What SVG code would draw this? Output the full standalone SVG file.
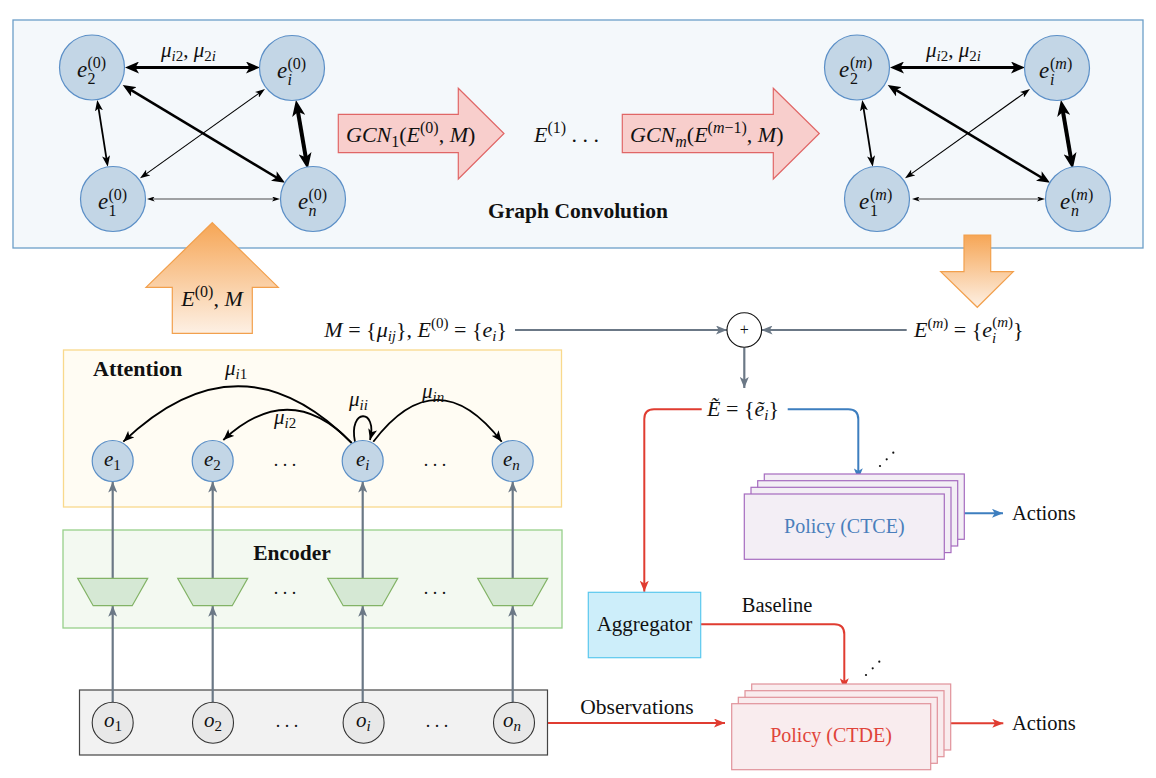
<svg xmlns="http://www.w3.org/2000/svg" width="1156" height="778" viewBox="0 0 1156 778">
<style>
.t{fill:#111}
.i{font-style:italic}
.b{font-weight:bold}
.u{font-style:normal}
.node{fill:#c3d6e6;stroke:#5b8fc7;stroke-width:1.2}
.obs{fill:#e8e8e8;stroke:#333;stroke-width:1.1}
.gline{stroke:#6b7886;stroke-width:2.2;fill:none}
.kline{stroke:#000;fill:none}
.trap{fill:#d5e8d4;stroke:#82b366;stroke-width:1.2}
.ctce{fill:#f3eef5;stroke:#a66bbf;stroke-width:1.2}
.ctde{fill:#f9ecee;stroke:#e0929a;stroke-width:1.2}
</style>
<defs>
<linearGradient id="og" x1="0" y1="0" x2="0" y2="1">
<stop offset="0" stop-color="#f6a656"/>
<stop offset="1" stop-color="#fdf0e4"/>
</linearGradient>
<marker id="k16" viewBox="0 0 16 13" refX="8" refY="6.5" markerWidth="16" markerHeight="13" markerUnits="userSpaceOnUse" orient="auto-start-reverse"><path d="M0,0 L16,6.5 L0,13 L4,6.5 z" fill="#000"/></marker>
<marker id="k14" viewBox="0 0 14 12" refX="7" refY="6" markerWidth="14" markerHeight="12" markerUnits="userSpaceOnUse" orient="auto-start-reverse"><path d="M0,0 L14,6 L0,12 L3.5,6 z" fill="#000"/></marker>
<marker id="k13" viewBox="0 0 13 11" refX="6.5" refY="5.5" markerWidth="13" markerHeight="11" markerUnits="userSpaceOnUse" orient="auto-start-reverse"><path d="M0,0 L13,5.5 L0,11 L3.2,5.5 z" fill="#000"/></marker>
<marker id="k11" viewBox="0 0 11 8" refX="5.5" refY="4" markerWidth="11" markerHeight="8" markerUnits="userSpaceOnUse" orient="auto-start-reverse"><path d="M0,0 L11,4 L0,8 L2.7,4 z" fill="#000"/></marker>
<marker id="k10" viewBox="0 0 10 7" refX="5" refY="3.5" markerWidth="10" markerHeight="7" markerUnits="userSpaceOnUse" orient="auto-start-reverse"><path d="M0,0 L10,3.5 L0,7 L2.5,3.5 z" fill="#000"/></marker>
<marker id="k8" viewBox="0 0 8 5" refX="4" refY="2.5" markerWidth="8" markerHeight="5" markerUnits="userSpaceOnUse" orient="auto-start-reverse"><path d="M0,0 L8,2.5 L0,5 L2,2.5 z" fill="#000"/></marker>
<marker id="ka" viewBox="0 0 11 9" refX="11" refY="4.5" markerWidth="11" markerHeight="9" markerUnits="userSpaceOnUse" orient="auto"><path d="M0,0 L11,4.5 L0,9 L2.7,4.5 z" fill="#000"/></marker>
<marker id="ga" viewBox="0 0 11 9" refX="11" refY="4.5" markerWidth="11" markerHeight="9" markerUnits="userSpaceOnUse" orient="auto"><path d="M0,0 L11,4.5 L0,9 L2.7,4.5 z" fill="#6b7886"/></marker>
<marker id="ra" viewBox="0 0 11 9" refX="11" refY="4.5" markerWidth="11" markerHeight="9" markerUnits="userSpaceOnUse" orient="auto"><path d="M0,0 L11,4.5 L0,9 L2.7,4.5 z" fill="#e03c31"/></marker>
<marker id="ba" viewBox="0 0 11 9" refX="11" refY="4.5" markerWidth="11" markerHeight="9" markerUnits="userSpaceOnUse" orient="auto"><path d="M0,0 L11,4.5 L0,9 L2.7,4.5 z" fill="#3d7ebf"/></marker>
</defs>
<rect width="1156" height="778" fill="#fff"/>

<g id="graph-convolution-box">
<rect x="13" y="20" width="1130" height="228" fill="#f4f8fb" stroke="#6c9ec8" stroke-width="1.3"/>
<text class="t b" font-family="Liberation Serif, serif" x="578" y="218" font-size="21.5" text-anchor="middle">Graph Convolution</text>
</g>
<g id="attention-box">
<rect x="63.5" y="350" width="498" height="157" fill="#fffcf3" stroke="#f9d98c" stroke-width="1.3"/>
<text class="t b" font-family="Liberation Serif, serif" x="93" y="376" font-size="22">Attention</text>
</g>
<g id="encoder-box">
<rect x="63" y="530" width="499" height="98" fill="#f3f9f1" stroke="#97d08a" stroke-width="1.3"/>
<text class="t b" font-family="Liberation Serif, serif" x="292" y="560" font-size="21.5" text-anchor="middle">Encoder</text>
</g>
<g id="observations-box">
<rect x="79.5" y="690" width="468" height="65" fill="#f2f2f2" stroke="#444" stroke-width="1.2"/>
</g>

<g id="gcn1-arrow">
<path d="M338.3,114.3 H458.3 V88.3 L504,133.5 L458.3,179 V152.7 H338.3 Z" fill="#f8cecc" stroke="#e06666" stroke-width="1.2"/>
<text class="t i" font-family="Liberation Serif, serif" x="346" y="142" font-size="22">GCN<tspan class="u" font-size="16" dy="5">1</tspan><tspan class="u" dy="-5">(</tspan>E<tspan class="u" font-size="16" dy="-9">(0)</tspan><tspan class="u" dy="9">, </tspan>M<tspan class="u">)</tspan></text>
</g>
<g id="e1-label">
<text class="t i" font-family="Liberation Serif, serif" x="534" y="142" font-size="22">E<tspan class="u" font-size="16" dy="-9">(1)</tspan><tspan class="u" dy="9"> . . .</tspan></text>
</g>
<g id="gcnm-arrow">
<path d="M622.3,114.3 H773.3 V88.3 L819.3,133.5 L773.3,179 V152.7 H622.3 Z" fill="#f8cecc" stroke="#e06666" stroke-width="1.2"/>
<text class="t i" font-family="Liberation Serif, serif" x="630" y="142" font-size="22">GCN<tspan font-size="16" dy="5">m</tspan><tspan class="u" dy="-5">(</tspan>E<tspan class="u" font-size="16" dy="-9">(</tspan><tspan font-size="16">m</tspan><tspan class="u" font-size="16">−1)</tspan><tspan class="u" dy="9">, </tspan>M<tspan class="u">)</tspan></text>
</g>
<g id="input-arrow">
<path d="M212.3,222.7 L278.3,287.3 H252.3 V333.3 H172.3 V287.3 H146 Z" fill="url(#og)" stroke="#f2a04d" stroke-width="1.2"/>
<text class="t i" font-family="Liberation Serif, serif" x="212" y="306" font-size="22" text-anchor="middle">E<tspan class="u" font-size="16" dy="-9">(0)</tspan><tspan class="u" dy="9">, </tspan>M</text>
</g>
<g id="output-arrow">
<path d="M964,235 H990.7 V271.7 H1013.3 L977.3,307.3 L940.7,271.7 H964 Z" fill="url(#og)" stroke="#f2a04d" stroke-width="1.2"/>
</g>

<g id="connectors">
<line class="kline" x1="132" y1="67.5" x2="253" y2="67.5" stroke-width="3" marker-start="url(#k14)" marker-end="url(#k14)"/>
<line class="kline" x1="98.1" y1="105.4" x2="106.9" y2="161.3" stroke-width="1.8" marker-start="url(#k11)" marker-end="url(#k11)"/>
<line class="kline" x1="297.3" y1="107.9" x2="306.4" y2="161.1" stroke-width="4" marker-start="url(#k16)" marker-end="url(#k16)"/>
<line class="kline" x1="128.3" y1="88.4" x2="279.4" y2="179.3" stroke-width="2.5" marker-start="url(#k13)" marker-end="url(#k13)"/>
<line class="kline" x1="260.9" y1="91.9" x2="144.1" y2="175.4" stroke-width="1.1" marker-start="url(#k10)" marker-end="url(#k10)"/>
<line class="kline" x1="150.7" y1="199" x2="276" y2="199" stroke-width="0.7" marker-start="url(#k8)" marker-end="url(#k8)"/>
<text class="t i" font-family="Liberation Serif, serif" x="161" y="57" font-size="21">μ<tspan font-size="15" dy="4">i</tspan><tspan class="u" font-size="15">2</tspan><tspan class="u" dy="-4">, </tspan>μ<tspan class="u" font-size="15" dy="4">2</tspan><tspan font-size="15">i</tspan></text>
<g transform="translate(765,0)">
<line class="kline" x1="132" y1="67.5" x2="253" y2="67.5" stroke-width="3" marker-start="url(#k14)" marker-end="url(#k14)"/>
<line class="kline" x1="98.1" y1="105.4" x2="106.9" y2="161.3" stroke-width="1.8" marker-start="url(#k11)" marker-end="url(#k11)"/>
<line class="kline" x1="297.3" y1="107.9" x2="306.4" y2="161.1" stroke-width="4" marker-start="url(#k16)" marker-end="url(#k16)"/>
<line class="kline" x1="128.3" y1="88.4" x2="279.4" y2="179.3" stroke-width="2.5" marker-start="url(#k13)" marker-end="url(#k13)"/>
<line class="kline" x1="260.9" y1="91.9" x2="144.1" y2="175.4" stroke-width="1.1" marker-start="url(#k10)" marker-end="url(#k10)"/>
<line class="kline" x1="150.7" y1="199" x2="276" y2="199" stroke-width="0.7" marker-start="url(#k8)" marker-end="url(#k8)"/>
<text class="t i" font-family="Liberation Serif, serif" x="161" y="57" font-size="21">μ<tspan font-size="15" dy="4">i</tspan><tspan class="u" font-size="15">2</tspan><tspan class="u" dy="-4">, </tspan>μ<tspan class="u" font-size="15" dy="4">2</tspan><tspan font-size="15">i</tspan></text>
</g>
<path class="kline" d="M351.7,443 Q240,330 123.3,441.7" stroke-width="1.8" marker-end="url(#ka)"/>
<path class="kline" d="M351.7,443 Q290,378 223.3,440" stroke-width="1.8" marker-end="url(#ka)"/>
<path class="kline" d="M355,442 C348,408 378,408 370,440" stroke-width="1.8" marker-end="url(#ka)"/>
<path class="kline" d="M373.3,441.7 Q437,358 501.7,441.7" stroke-width="1.8" marker-end="url(#ka)"/>
<text class="t i" font-family="Liberation Serif, serif" x="225" y="375" font-size="21">μ<tspan font-size="15" dy="4">i</tspan><tspan class="u" font-size="15">1</tspan></text>
<text class="t i" font-family="Liberation Serif, serif" x="274" y="424" font-size="21">μ<tspan font-size="15" dy="4">i</tspan><tspan class="u" font-size="15">2</tspan></text>
<text class="t i" font-family="Liberation Serif, serif" x="349" y="406" font-size="21">μ<tspan font-size="15" dy="4">ii</tspan></text>
<text class="t i" font-family="Liberation Serif, serif" x="422" y="398" font-size="21">μ<tspan font-size="15" dy="4">in</tspan></text>
<line class="gline" x1="112.7" y1="702" x2="112.7" y2="605.7" marker-end="url(#ga)"/>
<line class="gline" x1="212.7" y1="702" x2="212.7" y2="605.7" marker-end="url(#ga)"/>
<line class="gline" x1="362.7" y1="702" x2="362.7" y2="605.7" marker-end="url(#ga)"/>
<line class="gline" x1="512.7" y1="702" x2="512.7" y2="605.7" marker-end="url(#ga)"/>
<line class="gline" x1="112.7" y1="578.3" x2="112.7" y2="481.5" marker-end="url(#ga)"/>
<line class="gline" x1="212.7" y1="578.3" x2="212.7" y2="481.5" marker-end="url(#ga)"/>
<line class="gline" x1="362.7" y1="578.3" x2="362.7" y2="481.5" marker-end="url(#ga)"/>
<line class="gline" x1="512.7" y1="578.3" x2="512.7" y2="481.5" marker-end="url(#ga)"/>
<line class="gline" x1="515" y1="330" x2="727" y2="330" marker-end="url(#ga)"/>
<line class="gline" x1="906.7" y1="330" x2="761.5" y2="330" marker-end="url(#ga)"/>
<line class="gline" x1="744.3" y1="347.5" x2="744.3" y2="388" marker-end="url(#ga)"/>
<path d="M701.7,409.3 H654 Q644.3,409.3 644.3,419 V591.7" fill="none" stroke="#e03c31" stroke-width="2" marker-end="url(#ra)"/>
<path d="M787.7,409.3 H848.3 Q858.3,409.3 858.3,419.3 V479.3" fill="none" stroke="#3d7ebf" stroke-width="2" marker-end="url(#ba)"/>
<path d="M700.7,624.3 H834.3 Q844.3,624.3 844.3,634.3 V689.3" fill="none" stroke="#e03c31" stroke-width="2" marker-end="url(#ra)"/>
<text class="t" font-family="Liberation Serif, serif" x="777" y="612" font-size="20.5" text-anchor="middle">Baseline</text>
<line x1="548" y1="723" x2="725" y2="723" stroke="#e03c31" stroke-width="2" marker-end="url(#ra)"/>
<text class="t" font-family="Liberation Serif, serif" x="637" y="714" font-size="21.5" text-anchor="middle">Observations</text>
<line x1="957.7" y1="513.3" x2="1003" y2="513.3" stroke="#3d7ebf" stroke-width="2" marker-end="url(#ba)"/>
<line x1="945" y1="723.3" x2="1003.3" y2="723.3" stroke="#e03c31" stroke-width="2" marker-end="url(#ra)"/>
</g>

<g id="n-e2-0">
<circle class="node" cx="92" cy="67.5" r="32.5"/>
<text class="t i" font-family="Liberation Serif, serif" x="77" y="77" font-size="23">e</text>
<text class="t" font-family="Liberation Serif, serif" x="87.5" y="68" font-size="16">(0)</text>
<text class="t" font-family="Liberation Serif, serif" x="87.5" y="84" font-size="16">2</text>
</g>
<g id="n-ei-0">
<circle class="node" cx="292" cy="68" r="32.5"/>
<text class="t i" font-family="Liberation Serif, serif" x="277" y="77.5" font-size="23">e</text>
<text class="t" font-family="Liberation Serif, serif" x="287.5" y="68.5" font-size="16">(0)</text>
<text class="t i" font-family="Liberation Serif, serif" x="287.5" y="84.5" font-size="16">i</text>
</g>
<g id="n-e1-0">
<circle class="node" cx="113" cy="199" r="32.5"/>
<text class="t i" font-family="Liberation Serif, serif" x="98" y="208.5" font-size="23">e</text>
<text class="t" font-family="Liberation Serif, serif" x="108.5" y="199.5" font-size="16">(0)</text>
<text class="t" font-family="Liberation Serif, serif" x="108.5" y="215.5" font-size="16">1</text>
</g>
<g id="n-en-0">
<circle class="node" cx="313" cy="199" r="32.5"/>
<text class="t i" font-family="Liberation Serif, serif" x="298" y="208.5" font-size="23">e</text>
<text class="t" font-family="Liberation Serif, serif" x="308.5" y="199.5" font-size="16">(0)</text>
<text class="t i" font-family="Liberation Serif, serif" x="308.5" y="215.5" font-size="16">n</text>
</g>

<g transform="translate(765,0)">
<g id="n-e2-m">
<circle class="node" cx="92" cy="67.5" r="32.5"/>
<text class="t i" font-family="Liberation Serif, serif" x="74" y="77" font-size="23">e</text>
<text class="t" font-family="Liberation Serif, serif" x="85" y="68" font-size="16">(<tspan class="i">m</tspan>)</text>
<text class="t" font-family="Liberation Serif, serif" x="85" y="84" font-size="16">2</text>
</g>
<g id="n-ei-m">
<circle class="node" cx="292" cy="68" r="32.5"/>
<text class="t i" font-family="Liberation Serif, serif" x="274" y="77.5" font-size="23">e</text>
<text class="t" font-family="Liberation Serif, serif" x="285" y="68.5" font-size="16">(<tspan class="i">m</tspan>)</text>
<text class="t i" font-family="Liberation Serif, serif" x="285" y="84.5" font-size="16">i</text>
</g>
<g id="n-e1-m">
<circle class="node" cx="112" cy="199" r="32.5"/>
<text class="t i" font-family="Liberation Serif, serif" x="94" y="208.5" font-size="23">e</text>
<text class="t" font-family="Liberation Serif, serif" x="105" y="199.5" font-size="16">(<tspan class="i">m</tspan>)</text>
<text class="t" font-family="Liberation Serif, serif" x="105" y="215.5" font-size="16">1</text>
</g>
<g id="n-en-m">
<circle class="node" cx="313" cy="199" r="32.5"/>
<text class="t i" font-family="Liberation Serif, serif" x="295" y="208.5" font-size="23">e</text>
<text class="t" font-family="Liberation Serif, serif" x="306" y="199.5" font-size="16">(<tspan class="i">m</tspan>)</text>
<text class="t i" font-family="Liberation Serif, serif" x="306" y="215.5" font-size="16">n</text>
</g>
</g>

<g id="m-e0-label">
<text class="t" font-family="Liberation Serif, serif" x="507" y="337" font-size="22" text-anchor="end"><tspan class="i">M</tspan> = {<tspan class="i">μ</tspan><tspan class="i" font-size="15" dy="4">ij</tspan><tspan dy="-4">}, </tspan><tspan class="i">E</tspan><tspan font-size="15" dy="-9">(0)</tspan><tspan dy="9"> = {</tspan><tspan class="i">e</tspan><tspan class="i" font-size="15" dy="4">i</tspan><tspan dy="-4">}</tspan></text>
</g>
<g id="em-label">
<text class="t" font-family="Liberation Serif, serif" x="914" y="337" font-size="22"><tspan class="i">E</tspan><tspan font-size="15" dy="-9">(<tspan class="i">m</tspan>)</tspan><tspan dy="9"> = {</tspan><tspan class="i">e</tspan><tspan class="i" font-size="15" dy="6">i</tspan><tspan font-size="15" dx="-4" dy="-16">(<tspan class="i">m</tspan>)</tspan><tspan dy="10">}</tspan></text>
</g>
<g id="sum">
<circle cx="744.3" cy="330" r="17.3" fill="#fff" stroke="#111" stroke-width="1.1"/>
<text class="t" font-family="Liberation Serif, serif" x="744.3" y="335" font-size="16" text-anchor="middle">+</text>
</g>
<g id="e-tilde-label">
<text class="t" font-family="Liberation Serif, serif" x="743" y="416" font-size="22" text-anchor="middle"><tspan class="i">Ẽ</tspan> = {<tspan class="i">ẽ</tspan><tspan class="i" font-size="15" dy="4">i</tspan><tspan dy="-4">}</tspan></text>
</g>

<g id="att-e1"><circle class="node" cx="112.7" cy="461" r="20.5"/><text class="t i" font-family="Liberation Serif, serif" x="104" y="466" font-size="21">e<tspan class="u" font-size="15" dy="4">1</tspan></text></g>
<g id="att-e2"><circle class="node" cx="212.7" cy="461" r="20.5"/><text class="t i" font-family="Liberation Serif, serif" x="204" y="466" font-size="21">e<tspan class="u" font-size="15" dy="4">2</tspan></text></g>
<g id="att-ei"><circle class="node" cx="362.7" cy="461" r="20.5"/><text class="t i" font-family="Liberation Serif, serif" x="356" y="466" font-size="21">e<tspan font-size="15" dy="4">i</tspan></text></g>
<g id="att-en"><circle class="node" cx="512.7" cy="461" r="20.5"/><text class="t i" font-family="Liberation Serif, serif" x="503" y="466" font-size="21">e<tspan font-size="15" dy="4">n</tspan></text></g>
<text class="t" font-family="Liberation Serif, serif" x="285" y="466" font-size="18" text-anchor="middle">. . .</text>
<text class="t" font-family="Liberation Serif, serif" x="435" y="466" font-size="18" text-anchor="middle">. . .</text>

<g id="enc-1"><polygon class="trap" points="77.7,578.3 147.7,578.3 132.2,605.7 93.2,605.7"/></g>
<g id="enc-2"><polygon class="trap" points="177.7,578.3 247.7,578.3 232.2,605.7 193.2,605.7"/></g>
<g id="enc-i"><polygon class="trap" points="327.7,578.3 397.7,578.3 382.2,605.7 343.2,605.7"/></g>
<g id="enc-n"><polygon class="trap" points="477.7,578.3 547.7,578.3 532.2,605.7 493.2,605.7"/></g>
<text class="t" font-family="Liberation Serif, serif" x="285" y="594" font-size="18" text-anchor="middle">. . .</text>
<text class="t" font-family="Liberation Serif, serif" x="435" y="594" font-size="18" text-anchor="middle">. . .</text>

<g id="obs-1"><circle class="obs" cx="112.7" cy="722.7" r="20.5"/><text class="t i" font-family="Liberation Serif, serif" x="104" y="727" font-size="21">o<tspan class="u" font-size="15" dy="4">1</tspan></text></g>
<g id="obs-2"><circle class="obs" cx="213" cy="722.7" r="20.5"/><text class="t i" font-family="Liberation Serif, serif" x="204" y="727" font-size="21">o<tspan class="u" font-size="15" dy="4">2</tspan></text></g>
<g id="obs-i"><circle class="obs" cx="363.6" cy="722.7" r="20.5"/><text class="t i" font-family="Liberation Serif, serif" x="356" y="727" font-size="21">o<tspan font-size="15" dy="4">i</tspan></text></g>
<g id="obs-n"><circle class="obs" cx="514" cy="722.7" r="20.5"/><text class="t i" font-family="Liberation Serif, serif" x="503" y="727" font-size="21">o<tspan font-size="15" dy="4">n</tspan></text></g>
<text class="t" font-family="Liberation Serif, serif" x="287" y="727" font-size="18" text-anchor="middle">. . .</text>
<text class="t" font-family="Liberation Serif, serif" x="437" y="727" font-size="18" text-anchor="middle">. . .</text>

<g id="aggregator">
<rect x="588.3" y="592.3" width="112.4" height="65.4" fill="#cdeefa" stroke="#5ac8ee" stroke-width="1.2"/>
<text class="t" font-family="Liberation Serif, serif" x="644.5" y="631" font-size="21" text-anchor="middle">Aggregator</text>
</g>

<g id="policy-ctce">
<rect class="ctce" x="764.3" y="474" width="200" height="65.3"/>
<rect class="ctce" x="757.7" y="480.7" width="200" height="65.3"/>
<rect class="ctce" x="751" y="487.3" width="200" height="65.3"/>
<rect class="ctce" x="744.3" y="494" width="200" height="65.3"/>
<text font-family="Liberation Serif, serif" x="844.3" y="533" font-size="20" text-anchor="middle" fill="#4a7ebb">Policy (CTCE)</text>
<circle cx="880" cy="466" r="1.1" fill="#111"/><circle cx="886.7" cy="459.3" r="1.1" fill="#111"/><circle cx="893.3" cy="452.7" r="1.1" fill="#111"/>
</g>
<g id="actions-ctce"><text class="t" font-family="Liberation Serif, serif" x="1012" y="520" font-size="20.5">Actions</text></g>

<g id="policy-ctde">
<rect class="ctde" x="751.7" y="684" width="199" height="66"/>
<rect class="ctde" x="745" y="690.7" width="199" height="66"/>
<rect class="ctde" x="738.3" y="697.3" width="199" height="66"/>
<rect class="ctde" x="731.7" y="703.7" width="199" height="66"/>
<text font-family="Liberation Serif, serif" x="831" y="742" font-size="20" text-anchor="middle" fill="#e0443a">Policy (CTDE)</text>
<circle cx="866" cy="675" r="1.1" fill="#111"/><circle cx="872.7" cy="668.3" r="1.1" fill="#111"/><circle cx="879.3" cy="661.7" r="1.1" fill="#111"/>
</g>
<g id="actions-ctde"><text class="t" font-family="Liberation Serif, serif" x="1012" y="730" font-size="20.5">Actions</text></g>
</svg>
